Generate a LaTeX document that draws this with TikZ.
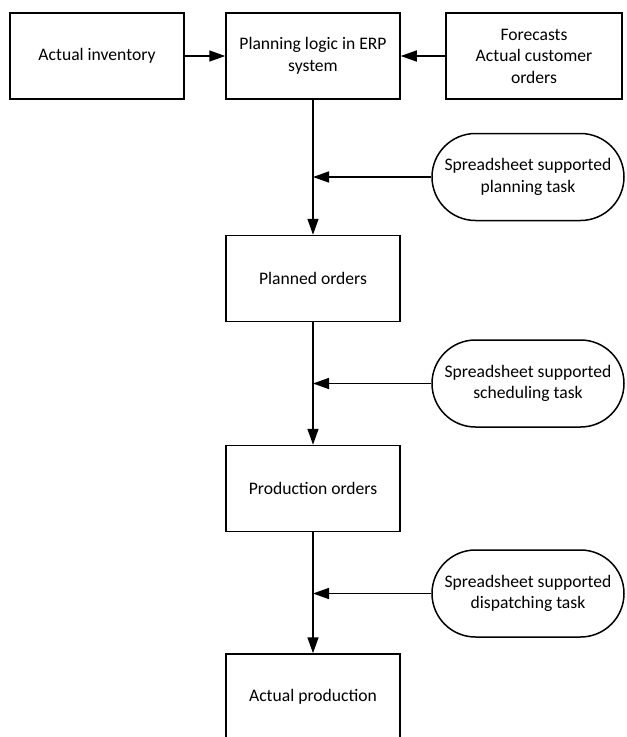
\documentclass[tikz,border=0pt]{standalone}
\usepackage{fontspec}
\setmainfont{Carlito}
\usetikzlibrary{arrows.meta,shapes.misc}
\begin{document}
\begin{tikzpicture}[x=1pt,y=-1pt,
  every node/.style={font=\fontsize{17.6}{21.5}\selectfont, align=center, inner sep=0pt},
  box/.style={draw, line width=1.5pt, minimum width=174pt, minimum height=86pt},
  task/.style={draw, line width=1.5pt, rounded rectangle, minimum width=192pt, minimum height=87pt},
  conn/.style={line width=1.5pt, -{Triangle[length=16pt,width=11pt]}}
]
\useasboundingbox (0,0) rectangle (627,737);
\clip (0,0) rectangle (627,737);
\node[box] (inv) at (97,56) {Actual inventory};
\node[box] (erp) at (313,56) {Planning logic in ERP\\system};
\node[box, minimum width=176pt] (fc) at (534,56) {Forecasts\\Actual customer\\orders};
\node[box] (po) at (313,278.5) {Planned orders};
\node[box] (pr) at (313,488.5) {Production orders};
\node[box] (ap) at (313,697) {Actual production};
\node[task] (t1) at (528,177) {Spreadsheet supported\\planning task};
\node[task] (t2) at (528,383.5) {Spreadsheet supported\\scheduling task};
\node[task] (t3) at (528,593.5) {Spreadsheet supported\\dispatching task};
\draw[conn] (inv) -- (erp);
\draw[conn] (fc) -- (erp);
\draw[conn] (erp) -- (po);
\draw[conn] (po) -- (pr);
\draw[conn] (pr) -- (ap);
\draw[conn] (t1.west) -- (t1.west -| erp.south);
\draw[conn] (t2.west) -- (t2.west -| po.south);
\draw[conn] (t3.west) -- (t3.west -| pr.south);
\end{tikzpicture}
\end{document}
